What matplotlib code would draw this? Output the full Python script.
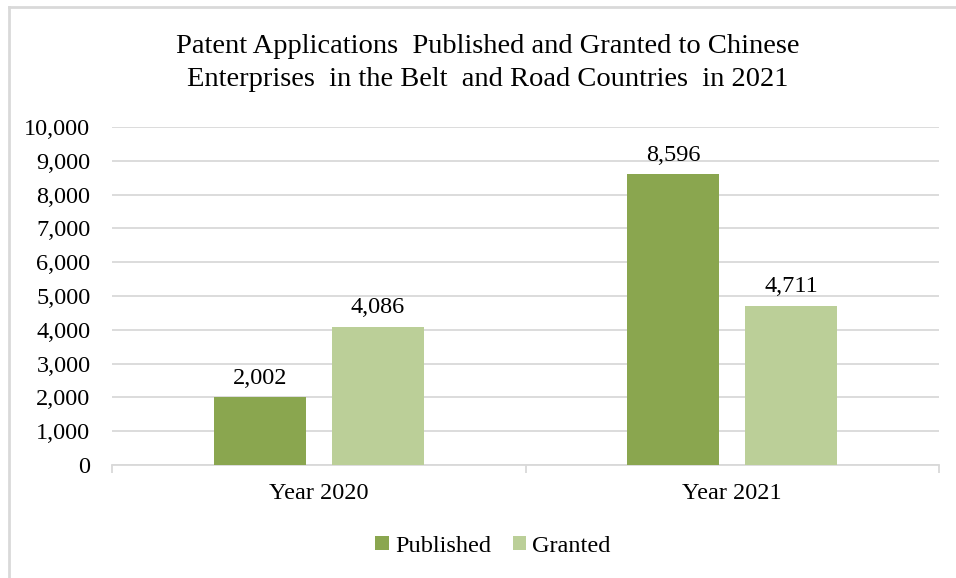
import numpy as np
import matplotlib.pyplot as plt
from matplotlib.lines import Line2D

categories = ['Year 2020', 'Year 2021']
published = [2002, 8596]
granted = [4086, 4711]
series_names = ['Published', 'Granted']
title = ('Patent Applications  Published and Granted to Chinese\n'
         'Enterprises  in the Belt  and Road Countries  in 2021')

plt.rcParams['font.family'] = ['Liberation Serif', 'DejaVu Serif']

c_pub = '#8aa64f'
c_gra = '#bbcf98'
grid_c = '#d9d9d9'
fs = 17.5

fig = plt.figure(figsize=(9.56, 5.78), dpi=100)
ax = fig.add_axes([112 / 956, 1 - 465 / 578, 827 / 956, 338 / 578])

# frame from the screenshot (only top and left visible)
fig.add_artist(Line2D([9 / 956, 9 / 956], [0, 1 - 7 / 578], transform=fig.transFigure,
                      color='#d9d9d9', lw=2))
fig.add_artist(Line2D([9 / 956, 1], [1 - 7 / 578, 1 - 7 / 578], transform=fig.transFigure,
                      color='#d9d9d9', lw=2))

x = np.arange(len(categories))
w = 0.2225
off = 0.1427
b1 = ax.bar(x - off, published, w, color=c_pub, label=series_names[0], zorder=3)
b2 = ax.bar(x + off, granted, w, color=c_gra, label=series_names[1], zorder=3)

for bars in (b1, b2):
    for r in bars:
        ax.text(r.get_x() + r.get_width() / 2, r.get_height() + 250, f'{int(r.get_height()):,}',
                ha='center', va='bottom', fontsize=fs)

ax.set_xlim(-0.5, 1.5)
ax.set_ylim(0, 10000)
ax.set_yticks(range(0, 10001, 1000))
ax.set_yticklabels([f'{v:,}' for v in range(0, 10001, 1000)], fontsize=fs)
ax.yaxis.grid(True, color=grid_c, lw=1.3, zorder=0)
ax.tick_params(axis='y', length=0, pad=15.5)

ax.set_xticks(x)
ax.set_xticklabels(categories, fontsize=fs)
ax.set_xticks([-0.5, 0.5, 1.5], minor=True)
ax.tick_params(axis='x', which='major', length=0, pad=13)
ax.tick_params(axis='x', which='minor', length=6, color=grid_c, width=1.3)

for s in ['top', 'right', 'left']:
    ax.spines[s].set_visible(False)
ax.spines['bottom'].set_color(grid_c)
ax.spines['bottom'].set_linewidth(1.3)

fig.text(488 / 956, 1 - 63 / 578, title, ha='center', va='center', fontsize=20.5, linespacing=1.4)

fig.legend(loc='center', bbox_to_anchor=(493 / 956, 1 - 546 / 578), ncol=2, frameon=False,
           fontsize=fs, handlelength=0.55, handleheight=0.55, handletextpad=0.25, columnspacing=0.9)

fig.savefig('out.png', dpi=100, facecolor='white')
